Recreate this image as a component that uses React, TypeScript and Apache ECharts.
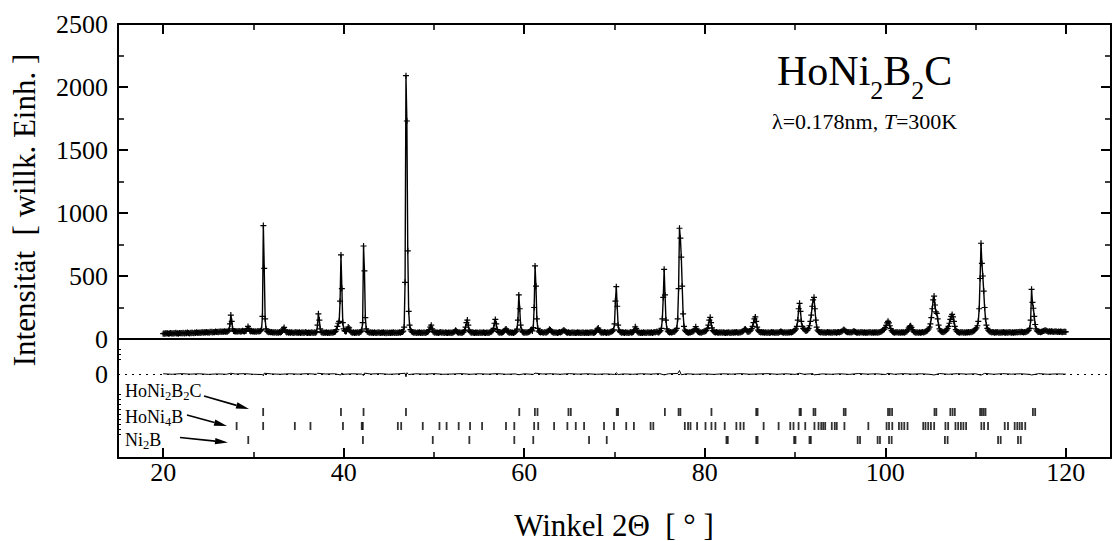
import React, { useEffect, useRef } from "react";
import * as echarts from "echarts";

// ---- data ----
const TWO_THETA_START = 20;
const TWO_THETA_STEP = 0.1;
// observed intensity, one row per degree (x.0 ... x.9)
const observedCounts: number[] = [
  42,45,40,47,43,46,41,44,48,43,
  45,41,47,44,49,43,46,42,48,45,
  47,44,50,46,43,49,45,51,47,44,
  50,46,52,48,45,51,47,53,49,50,
  52,48,54,50,55,49,53,51,56,52,
  54,50,57,53,58,52,56,54,59,55,
  57,53,60,56,61,55,59,57,62,58,
  60,57,63,70,120,190,140,80,64,61,
  59,62,58,63,60,64,58,61,65,62,
  60,63,66,80,100,85,66,60,63,59,
  62,58,61,57,60,63,59,62,66,75,
  180,900,560,160,80,62,57,54,58,53,
  55,51,54,50,56,52,49,53,50,55,
  52,56,64,80,92,70,57,52,55,50,
  53,49,54,51,48,52,50,55,49,52,
  50,54,48,52,49,53,47,51,55,50,
  48,52,50,47,53,49,51,48,54,50,
  58,110,200,150,80,56,50,53,48,51,
  49,53,47,51,48,52,50,54,49,53,
  55,60,75,100,125,140,300,667,400,130,
  80,66,60,62,78,95,88,65,56,52,
  50,54,48,52,49,53,51,48,55,58,
  70,130,738,540,170,80,60,55,52,50,
  53,49,52,48,54,50,47,52,49,53,
  50,47,52,49,53,48,51,46,52,50,
  48,52,47,51,49,53,48,52,50,47,
  51,49,54,50,56,55,62,95,450,2090,
  1730,700,220,110,75,62,55,52,49,53,
  50,47,52,49,53,48,51,47,52,49,
  51,48,53,56,62,75,95,110,80,60,
  54,50,53,49,52,48,51,55,50,53,
  49,52,48,53,50,47,52,49,51,48,
  52,49,55,60,70,62,54,50,53,49,
  51,48,53,56,68,95,130,150,110,70,
  58,52,49,53,50,47,52,49,51,48,
  50,53,48,52,49,54,50,47,52,49,
  51,48,53,55,60,68,85,125,155,120,
  75,58,52,49,53,50,54,58,66,76,
  80,68,56,51,49,53,50,52,48,51,
  55,62,78,150,350,240,110,70,58,52,
  50,54,49,53,51,56,60,68,75,64,
  90,250,580,420,160,85,62,55,52,56,
  53,49,52,55,50,53,58,66,78,72,
  62,55,51,49,53,50,52,48,51,55,
  52,56,60,66,72,64,57,52,49,53,
  50,47,52,49,53,48,51,47,50,53,
  49,52,47,51,48,53,50,47,52,49,
  51,48,52,49,55,50,53,48,52,56,
  65,80,87,72,58,52,49,53,50,55,
  52,48,53,49,51,54,57,60,64,72,
  120,300,415,260,110,70,58,53,50,54,
  51,48,53,49,52,50,47,52,55,49,
  53,58,70,97,82,62,54,50,52,48,
  51,48,53,49,52,47,51,54,49,52,
  50,53,48,52,55,51,56,60,54,52,
  58,66,85,160,330,553,350,150,80,62,
  56,52,55,51,54,58,56,62,70,85,
  160,400,879,800,650,420,200,100,70,60,
  55,52,50,54,51,55,58,60,66,78,
  98,80,62,55,51,54,50,53,56,60,
  60,64,70,85,110,150,172,130,88,66,
  58,54,51,55,52,49,53,50,54,51,
  49,53,50,47,52,49,53,51,48,52,
  50,54,49,53,51,55,52,49,54,51,
  53,57,60,66,75,80,70,60,56,60,
  62,70,82,100,130,160,175,140,95,70,
  60,55,52,56,51,54,50,53,49,52,
  50,54,48,52,55,51,53,49,52,50,
  53,49,52,56,60,58,53,50,54,51,
  49,53,50,54,51,55,52,56,60,65,
  70,80,100,150,240,283,220,140,100,85,
  78,70,64,66,72,85,105,140,190,260,
  310,331,240,150,95,70,60,55,52,55,
  51,54,50,53,49,52,55,51,54,50,
  53,49,52,55,51,54,50,53,56,52,
  55,58,62,68,75,70,62,57,53,56,
  52,55,51,54,58,62,60,55,52,50,
  53,49,52,55,51,54,50,53,49,52,
  50,54,51,55,52,49,53,50,54,51,
  53,50,54,51,55,58,62,68,74,78,
  90,108,128,140,128,105,82,66,57,53,
  50,54,51,55,52,49,53,50,54,51,
  53,50,54,57,62,72,88,100,105,92,
  75,62,55,52,50,54,51,49,53,50,
  52,55,51,54,57,60,64,70,80,95,
  120,170,240,310,341,270,215,204,160,110,
  80,65,58,55,54,57,60,65,72,85,
  100,125,155,180,195,175,140,100,75,62,
  57,53,50,54,51,55,52,49,53,50,
  54,51,55,52,56,53,57,60,64,70,
  78,88,105,140,240,480,760,600,500,380,
  250,160,110,85,70,62,58,55,52,56,
  53,50,54,51,55,52,49,53,50,54,
  51,55,52,49,53,50,54,51,55,52,
  49,53,50,54,51,55,52,56,53,57,
  54,58,55,52,56,53,57,60,64,70,
  85,150,394,290,244,180,115,80,65,58,
  55,58,54,57,60,63,66,70,68,64,
  60,57,61,58,62,59,56,60,57,61,
  58,55,59,56,60,57,54,58,55,59,
  56,
];

// observed - calculated
const differencePoints: [number, number][] = [
  [20,2],[21,-2],[22,3],[23,-1],[24,2],[25,-3],[26,1],[27,-2],[27.5,6],[28,0],[29,3],[30,-2],
  [31,-4],[31.1,-14],[31.2,6],[32,1],[33,-2],[34,2],[35,-1],[36,3],[37,-2],[37.1,6],[38,0],
  [39,2],[39.7,-8],[39.8,8],[40,-2],[41,2],[42,-1],[42.2,-12],[42.3,7],[43,0],[44,3],[45,-2],
  [46,1],[46.8,6],[46.9,-22],[47,10],[47.2,-4],[48,2],[49,-1],[50,3],[51,-2],[52,0],[53,3],
  [54,-2],[55,2],[56,-1],[57,3],[58,-2],[59,1],[59.4,-6],[60,2],[61,-3],[61.2,7],[62,0],
  [63,2],[64,-2],[65,3],[66,-1],[67,2],[68,-2],[69,1],[70,-3],[70.2,10],[70.4,-4],[71,1],
  [72,-2],[73,2],[74,-1],[75,3],[75.5,-7],[76,2],[77,4],[77.2,28],[77.4,-6],[78,2],[79,-2],
  [80,1],[81,-3],[82,2],[83,-1],[84,3],[85,-2],[86,1],[87,3],[88,-2],[89,2],[90,-3],
  [90.5,6],[91,-2],[92,3],[92.1,-7],[93,1],[94,-2],[95,2],[96,-3],[97,4],[98,-1],[99,2],
  [100,-4],[100.3,5],[101,-2],[102,3],[103,-1],[104,2],[105,-3],[105.4,-8],[106,4],[107,-2],
  [108,3],[109,-1],[110,2],[110.6,-9],[111,5],[112,-2],[113,3],[114,-1],[115,2],[116,-3],
  [116.2,-8],[117,3],[118,-2],[119,1],[120,-1],
];

// Bragg reflection positions (2θ) for each phase
const reflHoNi2B2C: number[] = [
  31.08, 39.7, 42.2, 46.9, 59.45, 61.18, 61.47, 64.9, 65.16, 70.25, 70.4, 75.58, 77.1, 77.3,
  80.74, 85.7, 85.85, 90.5, 90.65, 92.05, 92.25, 95.4, 95.6, 100.3, 100.5, 100.75,
  105.45, 105.65, 107.2, 107.45, 107.7, 110.5, 110.7, 110.9, 111.1, 116.35, 116.6,
];
const reflHoNi4B: number[] = [
  28.14, 31.08, 34.59, 36.32, 39.92, 42.0, 42.12, 46.0, 46.37, 48.76, 50.61, 51.4, 52.74,
  54.0, 55.33, 57.98, 58.9, 61.1, 61.55, 63.31, 64.78, 65.71, 66.63, 68.84, 69.94, 71.3,
  72.15, 74.0, 74.3, 77.79, 78.15, 78.42, 79.15, 80.08, 80.74, 81.18, 82.21, 83.5, 83.94,
  84.31, 86.52, 88.18, 89.47, 89.83, 90.39, 91.13, 92.15, 92.6, 92.9, 93.12, 93.34, 94.07,
  94.4, 94.62, 95.47, 98.12, 100.14, 100.41, 100.77, 101.51, 101.8, 102.1, 102.46, 104.2,
  104.45, 104.75, 105.05, 105.41, 106.66, 106.96, 107.77, 108.07, 108.37, 108.65, 108.95,
  110.64, 110.94, 111.38, 113.23, 113.59, 114.33, 114.62, 114.88, 115.14, 115.5,
];
const reflNi2B: number[] = [
  29.43, 42.13, 49.87, 53.92, 58.9, 61.0, 67.18, 69.14, 82.4, 82.55, 85.7, 85.85, 89.9,
  90.05, 91.6, 91.75, 96.94, 97.2, 99.15, 99.41, 100.41, 100.7, 106.6, 106.9, 112.49,
  112.78, 114.7, 115.0,
];
const phaseNames = ["HoNi2B2C", "HoNi4B", "Ni2B"];
const phaseLabels = ["HoNi{s|2}B{s|2}C", "HoNi{s|4}B", "Ni{s|2}B"];

const xTicksMajor = [20, 40, 60, 80, 100, 120];
const xTicksMinor = [30, 50, 70, 90, 110];
const X_MIN = 15;
const X_MAX = 125;

// ---- layout ----
const FONT = "'Liberation Serif', 'Times New Roman', serif";
const LEFT = 118;
const WIDTH = 993;
const TOP0 = 24;
const H0 = 315;
const TOP1 = 339;
const H1 = 119;

function arrow(x1: number, y1: number, x2: number, y2: number) {
  const dx = x2 - x1, dy = y2 - y1;
  const len = Math.sqrt(dx * dx + dy * dy);
  const ux = dx / len, uy = dy / len;
  const hl = 13, hw = 3.2;
  const bx = x2 - ux * hl, by = y2 - uy * hl;
  return [
    { type: "line", shape: { x1, y1, x2: bx, y2: by }, style: { stroke: "#000", lineWidth: 1.6 }, silent: true },
    {
      type: "polygon",
      shape: { points: [[x2, y2], [bx - uy * hw, by + ux * hw], [bx + uy * hw, by - ux * hw]] },
      style: { fill: "#000" },
      silent: true,
    },
  ];
}

export default function App() {
  const ref = useRef<HTMLDivElement>(null);
  useEffect(() => {
    if (!ref.current) return;
    const chart = echarts.init(ref.current, undefined, { renderer: "svg" });
    const black = "#000";
    const obsData = observedCounts.map((v, i) => [
      Math.round((TWO_THETA_START + i * TWO_THETA_STEP) * 100) / 100,
      v,
    ]);
    const xBase: any = {
      type: "value",
      min: X_MIN,
      max: X_MAX,
      splitLine: { show: false },
      axisLabel: { show: false },
      axisTick: { show: false },
      axisLine: { show: false, onZero: false },
    };
    const frameLine = { show: true, onZero: false, lineStyle: { color: black, width: 2 } };
    const majorTickX = { show: true, inside: true, length: 10, customValues: xTicksMajor, lineStyle: { color: black, width: 2 } };
    const minorTickX = { show: true, inside: true, length: 6, customValues: xTicksMinor, lineStyle: { color: black, width: 1.5 } };
    const yBase: any = {
      type: "value",
      splitLine: { show: false },
      axisLabel: { show: false },
      axisTick: { show: false },
      axisLine: { show: false, onZero: false },
    };
    const plain = (v: number) => String(v);
    const phaseSeries = [reflHoNi2B2C, reflHoNi4B, reflNi2B].map((arr, k) => ({
      type: "scatter",
      xAxisIndex: 5,
      yAxisIndex: 4,
      data: arr.map((v) => [v, phaseNames[k]]),
      symbol: "rect",
      symbolSize: [1.8, 8],
      itemStyle: { color: black },
      silent: true,
    }));

    const labelY = [391, 417, 440];
    const phaseText = phaseLabels.map((t, k) => ({
      type: "text",
      x: 125,
      y: labelY[k],
      silent: true,
      style: {
        text: t,
        fontSize: 18,
        lineHeight: 23,
        fontFamily: FONT,
        fill: black,
        align: "left",
        verticalAlign: "middle",
        rich: { s: { fontSize: 12.5, lineHeight: 12.5, verticalAlign: "bottom", fontFamily: FONT, fill: black } },
      },
    }));

    const option: any = {
      animation: false,
      grid: [
        { left: LEFT, top: TOP0, width: WIDTH, height: H0 },
        { left: LEFT, top: TOP1, width: WIDTH, height: H1 },
        { left: LEFT, top: 405, width: WIDTH, height: 42 },
      ],
      xAxis: [
        { ...xBase, gridIndex: 0, position: "bottom", axisLine: frameLine },
        { ...xBase, gridIndex: 0, position: "top", axisLine: frameLine, axisTick: majorTickX },
        { ...xBase, gridIndex: 0, position: "top", axisTick: minorTickX },
        {
          ...xBase,
          gridIndex: 1,
          position: "bottom",
          axisLine: frameLine,
          axisTick: majorTickX,
          axisLabel: { show: true, customValues: xTicksMajor, fontSize: 26, fontFamily: FONT, color: black, margin: 1, formatter: plain },
        },
        { ...xBase, gridIndex: 1, position: "bottom", axisTick: minorTickX },
        { ...xBase, gridIndex: 2, show: false },
      ],
      yAxis: [
        {
          ...yBase,
          gridIndex: 0,
          position: "left",
          min: 0,
          max: 2500,
          interval: 500,
          axisLine: frameLine,
          axisTick: { show: true, inside: true, length: 10, lineStyle: { color: black, width: 2 } },
          minorTick: { show: true, splitNumber: 2, length: 6, lineStyle: { color: black, width: 1.5 } },
          axisLabel: { show: true, fontSize: 26, fontFamily: FONT, color: black, margin: 10, formatter: plain },
        },
        {
          ...yBase,
          gridIndex: 0,
          position: "right",
          min: 0,
          max: 2500,
          interval: 500,
          axisLine: frameLine,
          axisTick: { show: true, inside: true, length: 10, lineStyle: { color: black, width: 2 } },
          minorTick: { show: true, splitNumber: 2, length: 6, lineStyle: { color: black, width: 1.5 } },
        },
        {
          ...yBase,
          gridIndex: 1,
          position: "left",
          min: -667,
          max: 278,
          axisLine: frameLine,
          axisTick: {
            show: true,
            inside: true,
            length: 3,
            customValues: [200, 160, 120, -160, -200, -240, -280, -320, -360, -400, -440, -480],
            lineStyle: { color: black, width: 1 },
          },
          axisLabel: { show: true, customValues: [0], fontSize: 26, fontFamily: FONT, color: black, margin: 10, formatter: plain },
        },
        { ...yBase, gridIndex: 1, position: "right", min: -667, max: 278, axisLine: frameLine },
        { type: "category", gridIndex: 2, data: phaseNames, inverse: true, show: false },
      ],
      series: [
        {
          type: "line",
          xAxisIndex: 0,
          yAxisIndex: 0,
          data: obsData,
          symbol: "path://M0,5L10,5M5,0L5,10",
          symbolSize: 6,
          showSymbol: true,
          showAllSymbol: true,
          itemStyle: { color: black, borderColor: black, borderWidth: 1.2 },
          lineStyle: { color: black, width: 1.4 },
          silent: true,
          z: 3,
        },
        {
          type: "line",
          xAxisIndex: 3,
          yAxisIndex: 2,
          data: differencePoints,
          symbol: "none",
          lineStyle: { color: black, width: 1 },
          silent: true,
          markLine: {
            silent: true,
            symbol: ["none", "none"],
            label: { show: false },
            lineStyle: { color: black, width: 1, type: [2, 5] },
            data: [{ yAxis: 0 }],
          },
        },
        ...phaseSeries,
      ],
      graphic: [
        {
          type: "text",
          x: 777,
          y: 39,
          silent: true,
          style: {
            text: "HoNi{s|2}B{s|2}C",
            fontSize: 42,
            lineHeight: 64,
            fontFamily: FONT,
            fill: black,
            align: "left",
            verticalAlign: "top",
            rich: { s: { fontSize: 26, lineHeight: 26, verticalAlign: "bottom", fontFamily: FONT, fill: black } },
          },
        },
        {
          type: "text",
          x: 772,
          y: 121,
          silent: true,
          style: {
            text: "λ=0.178nm, {i|T}=300K",
            fontSize: 22,
            fontFamily: FONT,
            fill: black,
            align: "left",
            verticalAlign: "middle",
            rich: { i: { fontSize: 22, fontStyle: "italic", fontFamily: FONT, fill: black } },
          },
        },
        {
          type: "text",
          x: 24,
          y: 210,
          rotation: Math.PI / 2,
          silent: true,
          style: {
            text: "Intensität\u00a0\u00a0[ willk. Einh. ]",
            fontSize: 31,
            fontFamily: FONT,
            fill: black,
            align: "center",
            verticalAlign: "middle",
          },
        },
        {
          type: "text",
          x: 614,
          y: 525,
          silent: true,
          style: {
            text: "Winkel 2Θ\u00a0\u00a0[ ° ]",
            fontSize: 31,
            fontFamily: FONT,
            fill: black,
            align: "center",
            verticalAlign: "middle",
          },
        },
        ...phaseText,
        ...arrow(204, 396, 249, 409),
        ...arrow(187, 415, 227, 426),
        ...arrow(180, 437.5, 228, 442.5),
      ],
    };
    chart.setOption(option);
    return () => chart.dispose();
  }, []);
  return <div ref={ref} style={{ width: 1113, height: 541, position: "absolute", left: 0, top: 0 }} />;
}
